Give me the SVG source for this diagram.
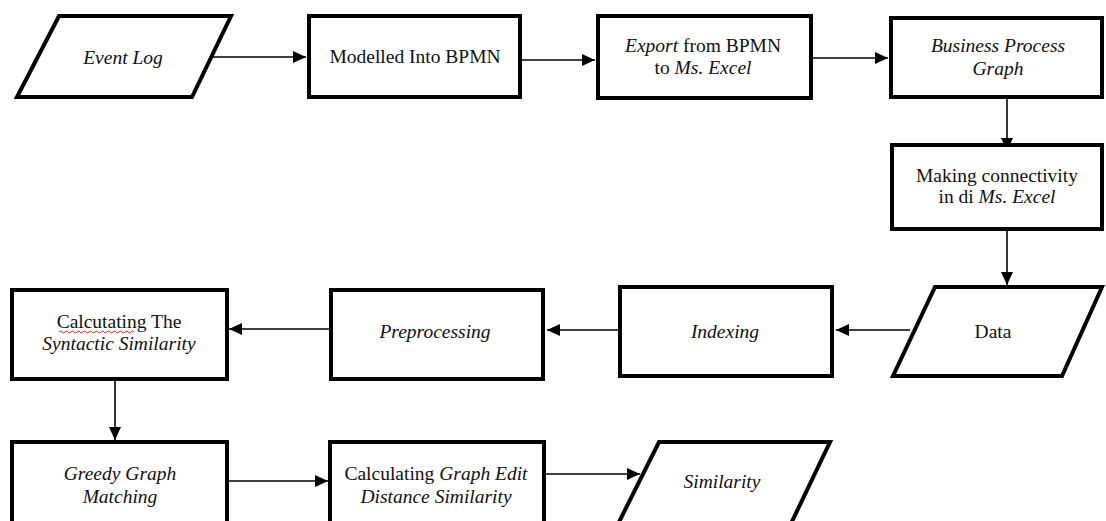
<svg xmlns="http://www.w3.org/2000/svg" width="1106" height="521" viewBox="0 0 1106 521">
<style>
.shape{fill:#fff;stroke:#000;stroke-width:4;stroke-linejoin:miter}
.edge{fill:none;stroke:#000;stroke-width:1.6}
text{font-family:"Liberation Serif","Times New Roman",serif;font-size:19.5px;fill:#111;text-anchor:middle}
.i{font-style:italic}
.squig{fill:none;stroke:#e02020;stroke-width:1}
</style>
<defs>
<marker id="ah" markerUnits="userSpaceOnUse" markerWidth="14" markerHeight="12" refX="13" refY="6" orient="auto">
<path d="M0,0 L13,6 L0,12 z" fill="#000"/>
</marker>
</defs>
<rect width="1106" height="521" fill="#fff"/>
<g id="connectors">
<path class="edge" d="M213,57 H306" marker-end="url(#ah)"/>
<path class="edge" d="M515,60 H595" marker-end="url(#ah)"/>
<path class="edge" d="M813,58 H888" marker-end="url(#ah)"/>
<path class="edge" d="M1007,99 V151" marker-end="url(#ah)"/>
<path class="edge" d="M1007,231 V285" marker-end="url(#ah)"/>
<path class="edge" d="M910,330 H836" marker-end="url(#ah)"/>
<path class="edge" d="M618,330 H547" marker-end="url(#ah)"/>
<path class="edge" d="M329,329 H229" marker-end="url(#ah)"/>
<path class="edge" d="M115,380 V440" marker-end="url(#ah)"/>
<path class="edge" d="M227,481 H328" marker-end="url(#ah)"/>
<path class="edge" d="M545,474 H640" marker-end="url(#ah)"/>
</g>
<g id="n-event-log">
<polygon class="shape" points="59,16 231,16 192,97 17,97"/>
<text class="i" x="123" y="64">Event Log</text>
</g>
<g id="n-modelled">
<rect class="shape" x="309" y="16" width="211" height="81"/>
<text x="415" y="63">Modelled Into BPMN</text>
</g>
<g id="n-export">
<rect class="shape" x="598" y="16" width="213" height="82"/>
<text x="703" y="52"><tspan class="i">Export</tspan> from BPMN</text>
<text x="703" y="74">to <tspan class="i">Ms. Excel</tspan></text>
</g>
<g id="n-bpg">
<rect class="shape" x="891" y="18" width="211" height="79"/>
<text class="i" x="998" y="52">Business Process</text>
<text class="i" x="998" y="75">Graph</text>
</g>
<g id="n-making">
<rect class="shape" x="892" y="145" width="210" height="84"/>
<text x="997" y="182">Making connectivity</text>
<text x="997" y="203">in di <tspan class="i">Ms. Excel</tspan></text>
</g>
<g id="n-data">
<polygon class="shape" points="935,287 1102,287 1062,376 893,376"/>
<text x="993" y="338">Data</text>
</g>
<g id="n-indexing">
<rect class="shape" x="620" y="287" width="212" height="89"/>
<text class="i" x="725" y="338">Indexing</text>
</g>
<g id="n-preprocessing">
<rect class="shape" x="331" y="290" width="212" height="89"/>
<text class="i" x="435" y="338">Preprocessing</text>
</g>
<g id="n-syntactic">
<rect class="shape" x="12" y="290" width="215" height="89"/>
<text x="119" y="328">Calcutating The</text>
<path class="squig" d="M59,332 q1.5,-2 3,0 t3,0 t3,0 t3,0 t3,0 t3,0 t3,0 t3,0 t3,0 t3,0 t3,0 t3,0 t3,0 t3,0 t3,0 t3,0 t3,0 t3,0 t3,0 t3,0 t3,0 t3,0 t3,0 t3,0 t3,0"/>
<text class="i" x="119" y="350">Syntactic Similarity</text>
</g>
<g id="n-greedy">
<rect class="shape" x="12" y="442" width="215" height="92"/>
<text class="i" x="120" y="480">Greedy Graph</text>
<text class="i" x="120" y="503">Matching</text>
</g>
<g id="n-ged">
<rect class="shape" x="330" y="442" width="214" height="92"/>
<text x="436" y="480">Calculating <tspan class="i">Graph Edit</tspan></text>
<text class="i" x="436" y="503">Distance Similarity</text>
</g>
<g id="n-similarity">
<polygon class="shape" points="659,442 830,442 786,534 613,534"/>
<text class="i" x="722" y="488">Similarity</text>
</g>
</svg>
